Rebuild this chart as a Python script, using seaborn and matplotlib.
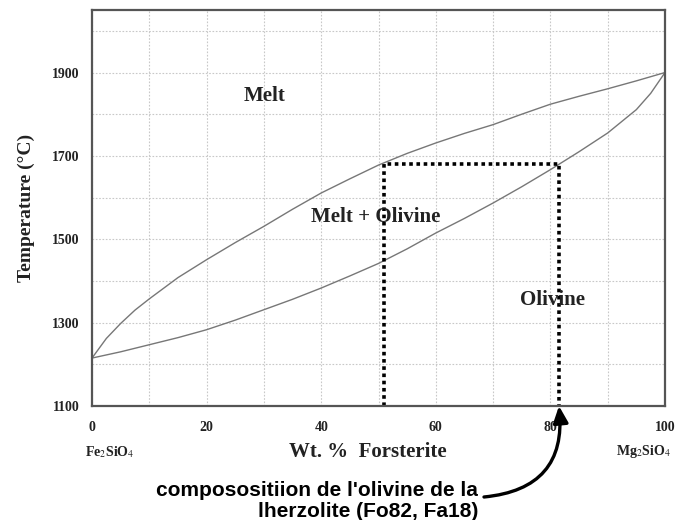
import matplotlib
matplotlib.use("Agg")
import matplotlib.pyplot as plt
import seaborn as sns
import pandas as pd

# Liquidus (upper curve)
liq_x = [0, 2.5, 5, 7.5, 10, 15, 20, 25, 30, 35, 40, 45, 50, 55, 60, 65, 70, 75, 80, 85, 90, 95, 100]
liq_t = [1215, 1262, 1298, 1330, 1357, 1408, 1451, 1492, 1531, 1572, 1611, 1645, 1678, 1706,
         1731, 1754, 1775, 1800, 1824, 1843, 1861, 1880, 1900]
# Solidus (lower curve)
sol_x = [0, 5, 10, 15, 20, 25, 30, 35, 40, 45, 50, 55, 60, 65, 70, 75, 80, 85, 90, 95, 97.5, 100]
sol_t = [1215, 1230, 1247, 1264, 1283, 1306, 1331, 1356, 1383, 1412, 1442, 1477, 1515, 1550,
         1587, 1626, 1667, 1710, 1755, 1811, 1850, 1900]

# Tie-line construction (dotted box)
box_x = [51, 51, 81.5, 81.5]
box_t = [1100, 1681, 1681, 1100]

x_ticks = [0, 20, 40, 60, 80, 100]
y_ticks = [1100, 1300, 1500, 1700, 1900]

region_labels = ["Melt", "Melt + Olivine", "Olivine"]
region_x = [30.2, 49.5, 80.4]
region_t = [1843, 1554, 1355]

sns.set_style("white")
plt.rcParams["font.family"] = ["Liberation Serif", "DejaVu Serif"]
plt.rcParams["mathtext.fontset"] = "stix"

fig = plt.figure(figsize=(6.86, 5.20), dpi=100)
ax = fig.add_axes([92 / 686, 1 - 406 / 520, (665 - 92) / 686, (406 - 10) / 520])

liq = pd.DataFrame({"x": liq_x, "T": liq_t})
sol = pd.DataFrame({"x": sol_x, "T": sol_t})
box = pd.DataFrame({"x": box_x, "T": box_t})

sns.lineplot(data=liq, x="x", y="T", ax=ax, color="#777777", lw=1.0, sort=False, estimator=None)
sns.lineplot(data=sol, x="x", y="T", ax=ax, color="#777777", lw=1.0, sort=False, estimator=None)
sns.lineplot(data=box, x="x", y="T", ax=ax, color="black", lw=2.6, ls=(0, (1, 1)),
             sort=False, estimator=None)

ax.set_xlim(0, 100)
ax.set_ylim(1100, 2050)
ax.set_xticks(range(0, 101, 10), minor=True)
ax.set_yticks(range(1100, 2051, 100), minor=True)
ax.set_xticks(x_ticks)
ax.set_yticks(y_ticks)
ax.set_xticklabels([str(v) for v in x_ticks], fontsize=10, fontweight="bold", color="#222")
ax.set_yticklabels([str(v) for v in y_ticks], fontsize=10, fontweight="bold", color="#222")
ax.tick_params(axis="both", which="both", length=0)
ax.tick_params(axis="x", pad=11)
ax.tick_params(axis="y", pad=9)
ax.grid(True, which="both", color="#c8c8c8", ls=(0, (1.5, 1.5)), lw=0.8)
ax.set_axisbelow(True)
for s in ax.spines.values():
    s.set_color("#555555")
    s.set_linewidth(1.6)

ax.set_xlabel("")
ax.set_ylabel("Temperature (°C)", fontsize=14, fontweight="bold", color="#222", labelpad=12)
fig.text(368 / 686, 1 - 452 / 520, "Wt. %  Forsterite", ha="center", va="center",
         fontsize=15, fontweight="bold", color="#222")

for lab, xx, tt in zip(region_labels, region_x, region_t):
    ax.text(xx, tt, lab, ha="center", va="center", fontsize=15, fontweight="bold", color="#222")

fig.text(110 / 686, 1 - 452 / 520, r"Fe$_2$SiO$_4$", ha="center", va="center", fontsize=10,
         fontweight="bold", color="#222")
fig.text(643 / 686, 1 - 452 / 520, r"Mg$_2$SiO$_4$", ha="center", va="center", fontsize=10,
         fontweight="bold", color="#222")

fig.text(478 / 686, 1 - 501 / 520, "composositiion de l'olivine de la\nlherzolite (Fo82, Fa18)",
         ha="right", va="center", multialignment="right",
         fontsize=15, fontweight="bold", family=["Liberation Sans", "DejaVu Sans"],
         linespacing=1.1, color="black")

ax.annotate("", xy=(81.5, 1100), xycoords="data",
            xytext=(484 / 686, 1 - 497 / 520), textcoords="figure fraction",
            annotation_clip=False,
            arrowprops=dict(arrowstyle="-|>,head_length=1.0,head_width=0.45", color="black", lw=2.4,
                            connectionstyle="arc3,rad=0.5", shrinkA=0, shrinkB=0))

fig.savefig("out.png", dpi=100)
